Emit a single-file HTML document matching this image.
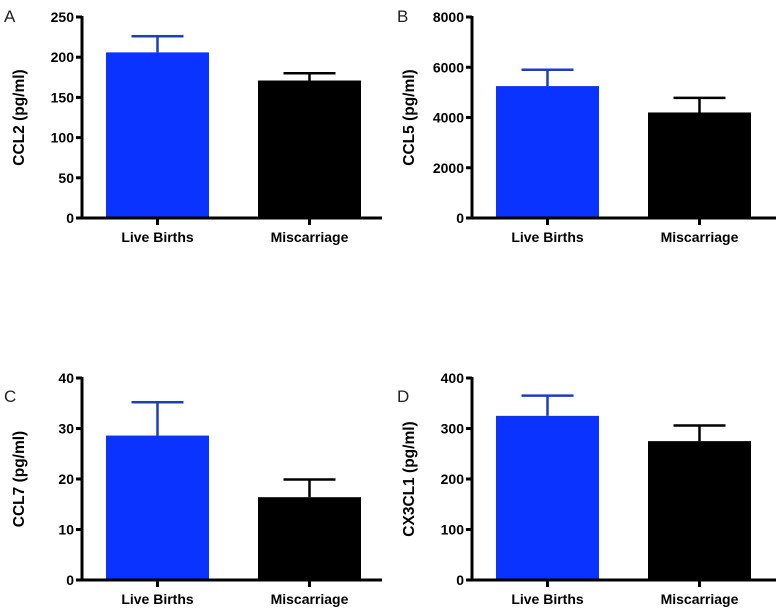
<!DOCTYPE html>
<html><head><meta charset="utf-8"><style>
body{margin:0;background:#fff;width:781px;height:610px;overflow:hidden}
svg{font-family:"Liberation Sans",Arial,sans-serif}
.t{font-weight:bold;font-size:14px}
.yt{font-weight:bold;font-size:15.5px}
</style></head><body>
<svg id="c" width="781" height="610"></svg>
<script>
const categories=["Live Births","Miscarriage"];
const aMeans=[206,171], aErr=[226,180], aTicks=[0,50,100,150,200,250];
const bMeans=[5250,4200], bErr=[5900,4780], bTicks=[0,2000,4000,6000,8000];
const cMeans=[28.6,16.4], cErr=[35.2,19.9], cTicks=[0,10,20,30,40];
const dMeans=[325,275], dErr=[365,306], dTicks=[0,100,200,300,400];
const colors=["#0a33ff","#000000"], errColors=["#1a3fbf","#000000"];
const NS="http://www.w3.org/2000/svg", svg=document.getElementById('c');
function mk(t,a,p){const e=document.createElementNS(NS,t);for(const k in a)e.setAttribute(k,a[k]);(p||svg).appendChild(e);return e;}
function panel(name,letter,title,means,errs,ticks,ax,top,bot,xend,lx,ly){
  const g=mk('g',{});
  const max=ticks[ticks.length-1];
  const y=v=>bot-(v/max)*(bot-top);
  const bx=[ax+24,ax+176], bw=103;
  means.forEach((m,i)=>{
    const r=mk('rect',{x:bx[i],y:y(m),width:bw,height:bot-y(m),fill:colors[i]},g);
    
    const cx=bx[i]+bw/2;
    const e=mk('path',{d:`M${cx},${y(m)}V${y(errs[i])}M${cx-26},${y(errs[i])}H${cx+26}`,stroke:errColors[i],'stroke-width':2.5,fill:'none'},g);
    
    mk('line',{x1:cx,x2:cx,y1:bot,y2:bot+7,stroke:'#000','stroke-width':3},g);
    const tx=mk('text',{x:cx,y:bot+24,'text-anchor':'middle',class:'t'},g);tx.textContent=categories[i];
    
  });
  ticks.forEach(t=>{
    mk('line',{x1:ax-6,x2:ax,y1:y(t),y2:y(t),stroke:'#000','stroke-width':3},g);
    const tx=mk('text',{x:ax-8,y:y(t)+5,'text-anchor':'end',class:'t'},g);tx.textContent=t;
    
  });
  const ax1=mk('path',{d:`M${ax},${top-1}V${bot}H${xend}`,stroke:'#000','stroke-width':3,fill:'none'},g);
  
  const yt=mk('text',{x:0,y:0,'text-anchor':'middle',class:'yt',transform:`translate(${ax-58},${(top+bot)/2}) rotate(-90)`},g);
  yt.textContent=title;
  const L=mk('text',{x:lx,y:ly,'font-size':'17px',fill:'#222'},g);L.textContent=letter;
  
}
panel('a','A','CCL2 (pg/ml)',aMeans,aErr,aTicks,82,17,218,382,4,22);
panel('b','B','CCL5 (pg/ml)',bMeans,bErr,bTicks,472,17,218,776,397,22);
panel('c','C','CCL7 (pg/ml)',cMeans,cErr,cTicks,82,378,580,382,4,402);
panel('d','D','CX3CL1 (pg/ml)',dMeans,dErr,dTicks,472,378,580,776,397,402);
</script>
</body></html>
